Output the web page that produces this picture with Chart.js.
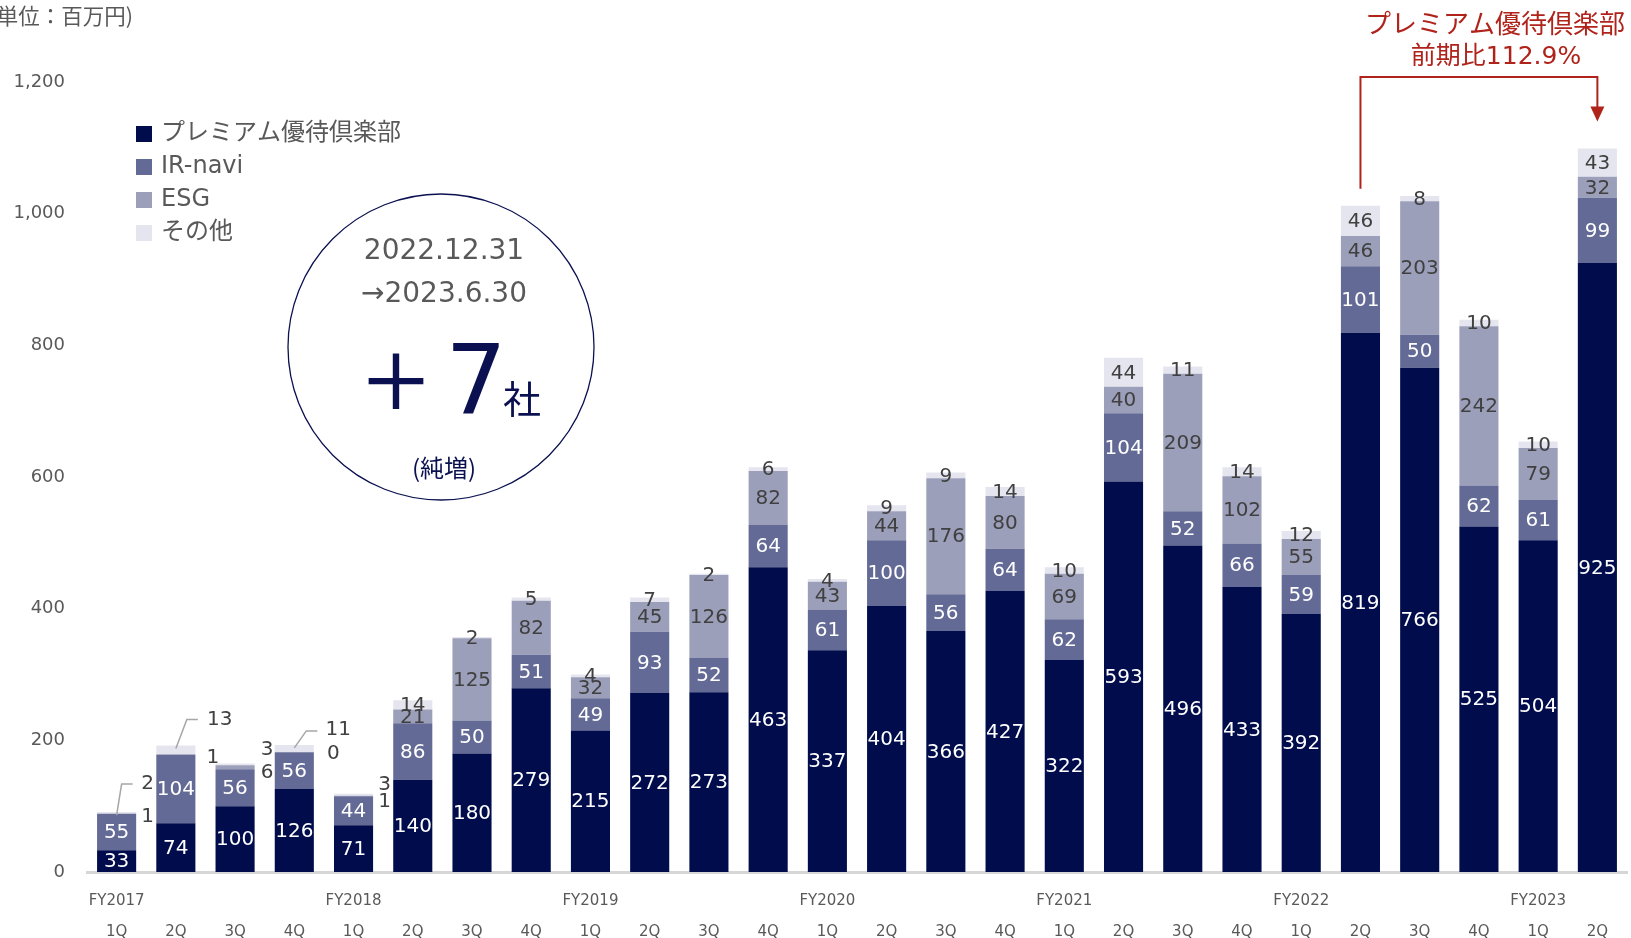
<!DOCTYPE html>
<html lang="ja">
<head>
<meta charset="UTF-8">
<title>売上推移</title>
<style>
  body { margin: 0; background: #fff; }
  #wrap { width: 1631px; height: 938px; position: relative; }
</style>
</head>
<body>
<div id="wrap"><canvas id="grafico"></canvas></div>
<script src="https://cdn.jsdelivr.net/npm/chart.js"></script>
<script>
// --- data (単位：百万円) ---
const quarters = ['1Q','2Q','3Q','4Q','1Q','2Q','3Q','4Q','1Q','2Q','3Q','4Q','1Q','2Q','3Q','4Q','1Q','2Q','3Q','4Q','1Q','2Q','3Q','4Q','1Q','2Q'];
const fiscalYears = ['FY2017','','','','FY2018','','','','FY2019','','','','FY2020','','','','FY2021','','','','FY2022','','','','FY2023',''];
const premium = [33,74,100,126,71,140,180,279,215,272,273,463,337,404,366,427,322,593,496,433,392,819,766,525,504,925];
const irNavi  = [55,104,56,56,44,86,50,51,49,93,52,64,61,100,56,64,62,104,52,66,59,101,50,62,61,99];
const esg     = [1,1,6,0,1,21,125,82,32,45,126,82,43,44,176,80,69,40,209,102,55,46,203,242,79,32];
const other   = [2,13,3,11,3,14,2,5,4,7,2,6,4,9,9,14,10,44,11,14,12,46,8,10,10,43];
const seriesNames = ['プレミアム優待倶楽部','IR-navi','ESG','その他'];

const colors = ['#000c4b','#636a95','#9b9fba','#e5e5ef'];
const labelColors = ['#ffffff','#ffffff','#404040','#404040'];
const gray = '#595959';
const navy = '#0b1150';
const red = '#b0231b';
const numFont = '"DejaVu Sans", "Noto Sans CJK JP"';
const jpFont = '"Noto Sans CJK JP", "DejaVu Sans"';

// labels of the first thin bars sit beside the bar (offsets from stack top)
const sideLabels = [
  {i:0, esg:[31,5],  oth:[31,-28], line:[[0,3],[5,-28],[16,-28]]},
  {i:1, esg:[37,12], oth:[44,-26], line:[[0,3],[11,-26],[22,-26]]},
  {i:2, esg:[32,9],  oth:[32,-14]},
  {i:3, esg:[39,9],  oth:[44,-15], line:[[0,3],[12,-14],[23,-14]]},
  {i:4, esg:[31,8],  oth:[31,-9]}
];

const overlay = {
  id: 'overlay',
  afterDatasetsDraw(chart) {
    const ctx = chart.ctx;
    ctx.save();
    ctx.font = '20px ' + numFont;
    ctx.textAlign = 'center';
    ctx.textBaseline = 'middle';
    const sideIdx = sideLabels.map(s => s.i);
    chart.data.datasets.forEach((ds, d) => {
      const meta = chart.getDatasetMeta(d);
      meta.data.forEach((el, i) => {
        if (d >= 2 && sideIdx.includes(i)) return;
        ctx.fillStyle = labelColors[d];
        ctx.fillText(String(ds.data[i]), el.x, (el.y + el.base) / 2 + 1);
      });
    });
    // side labels with leader lines
    const topMeta = chart.getDatasetMeta(3);
    sideLabels.forEach(s => {
      const el = topMeta.data[s.i];
      const cx = el.x, ty = el.y;
      ctx.fillStyle = '#404040';
      ctx.fillText(String(esg[s.i]), cx + s.esg[0], ty + s.esg[1]);
      ctx.fillText(String(other[s.i]), cx + s.oth[0], ty + s.oth[1]);
      if (s.line) {
        ctx.strokeStyle = '#a6a6a6';
        ctx.lineWidth = 1.5;
        ctx.beginPath();
        s.line.forEach((p, k) => {
          if (k === 0) ctx.moveTo(cx + p[0], ty + p[1]);
          else ctx.lineTo(cx + p[0], ty + p[1]);
        });
        ctx.stroke();
      }
    });
    ctx.restore();
  },
  afterDraw(chart) {
    const ctx = chart.ctx;
    ctx.save();
    // unit
    ctx.fillStyle = gray;
    ctx.font = '21.5px ' + jpFont;
    ctx.textAlign = 'right';
    ctx.textBaseline = 'middle';
    ctx.fillText('(単位：百万円)', 133, 16);

    // legend
    ctx.textAlign = 'left';
    ctx.font = '24px ' + numFont;
    seriesNames.forEach((n, k) => {
      const y = 134 + k * 33;
      ctx.fillStyle = colors[k];
      ctx.fillRect(136, y - 8, 16, 16);
      ctx.fillStyle = gray;
      ctx.fillText(n, 161, y);
    });

    // circle
    ctx.beginPath();
    ctx.arc(441, 347, 153, 0, Math.PI * 2);
    ctx.strokeStyle = navy;
    ctx.lineWidth = 1.3;
    ctx.stroke();
    ctx.textAlign = 'center';
    ctx.fillStyle = gray;
    ctx.font = '28px ' + numFont;
    ctx.fillText('2022.12.31', 444, 252);
    ctx.fillText('→2023.6.30', 444, 295);
    ctx.fillStyle = navy;
    ctx.font = '500 76px ' + jpFont;
    ctx.fillText('＋', 396, 381);
    ctx.textBaseline = 'alphabetic';
    ctx.font = '97px ' + numFont;
    ctx.fillText('7', 476, 413);
    ctx.font = '38px ' + jpFont;
    ctx.fillText('社', 522, 413);
    ctx.textBaseline = 'middle';
    ctx.font = '24px ' + jpFont;
    ctx.fillText('(純増)', 444, 468);

    // annotation: FY2022 2Q -> FY2023 2Q
    const meta = chart.getDatasetMeta(3);
    const a = meta.data[21], b = meta.data[25];
    const yTop = 77;
    ctx.strokeStyle = red;
    ctx.lineWidth = 2;
    ctx.beginPath();
    ctx.moveTo(a.x, a.y - 17);
    ctx.lineTo(a.x, yTop);
    ctx.lineTo(b.x, yTop);
    ctx.lineTo(b.x, b.y - 40);
    ctx.stroke();
    ctx.fillStyle = red;
    ctx.beginPath();
    ctx.moveTo(b.x - 7, b.y - 42);
    ctx.lineTo(b.x + 7, b.y - 42);
    ctx.lineTo(b.x, b.y - 27);
    ctx.closePath();
    ctx.fill();
    ctx.font = '26px ' + jpFont;
    ctx.fillText('プレミアム優待倶楽部', 1495, 23);
    ctx.font = '25px ' + numFont;
    ctx.fillText('前期比112.9%', 1496, 57);
    ctx.restore();
  }
};

const labels = quarters.map((q, i) => [fiscalYears[i], q]);
const seriesData = [premium, irNavi, esg, other];

const grafico = new Chart(document.getElementById('grafico'), {
  type: 'bar',
  data: {
    labels: labels,
    datasets: seriesData.map((arr, k) => ({
      label: seriesNames[k],
      data: arr,
      backgroundColor: colors[k],
      borderWidth: 0,
      categoryPercentage: 1,
      barPercentage: 0.66
    }))
  },
  options: {
    responsive: true,
    maintainAspectRatio: false,
    animation: false,
    layout: { padding: { top: 82, right: 4, left: 0, bottom: 0 } },
    plugins: { legend: { display: false }, tooltip: { enabled: false } },
    scales: {
      x: {
        stacked: true,
        grid: { display: false, drawTicks: false },
        border: { display: true, color: '#d6d6d6', width: 3 },
        ticks: {
          color: gray,
          autoSkip: false,
          maxRotation: 0,
          padding: 14,
          font: { family: numFont, size: 15, lineHeight: 2.07 }
        },
        afterFit: s => { s.height = 66; }
      },
      y: {
        stacked: true,
        min: 0,
        max: 1200,
        grid: { display: false, drawTicks: false },
        border: { display: false },
        ticks: {
          stepSize: 200,
          color: gray,
          padding: 22,
          font: { family: numFont, size: 18 },
          callback: v => v.toLocaleString('en-US')
        },
        afterFit: s => { s.width = 87; }
      }
    }
  },
  plugins: [overlay]
});
</script>
</body>
</html>
